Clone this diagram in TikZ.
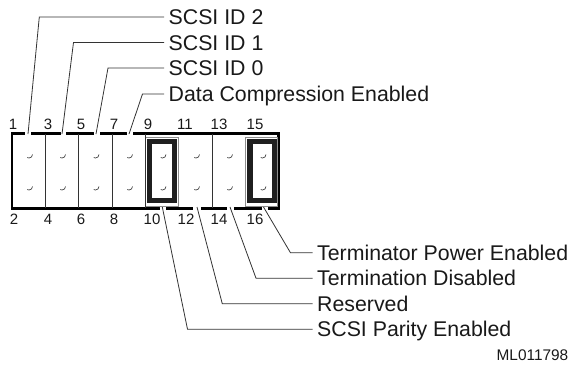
\documentclass[tikz,border=0pt]{standalone}
\usepackage{fontspec}
\setmainfont{Liberation Sans}
\usetikzlibrary{positioning, calc}

\begin{document}
\begin{tikzpicture}[
    x=1pt, y=-1pt,
    label/.style={anchor=west, inner xsep=4.5pt, inner ysep=0pt, text height=15pt, text depth=0pt,
                  font=\fontsize{21.3}{21.3}\selectfont, text=black!90},
    pinnum/.style={inner sep=0pt, font=\fontsize{15}{15}\selectfont, text=black!90},
    leader/.style={draw=black!80, line width=0.8pt},
    divider/.style={draw=black!80, line width=0.8pt},
    gap/.style={draw=white, line width=3.4pt},
    jumperbox/.style={draw=black!45, line width=0.9pt},
    jumper/.style={draw=black!88, line width=5.4pt},
    hook/.style={draw=black!75, line width=0.7pt},
]
\useasboundingbox (0,0) rectangle (575,364);

% --- Switch block ---
\draw[black, line width=2.6pt, fill=white] (12,133.3) rectangle (278.3,208.3);

% --- Gaps in the border for the leaders ---
\draw[gap] (25,133.3) -- (30.7,133.3);
\draw[gap] (60.7,133.3) -- (66,133.3);
\draw[gap] (93.5,133.3) -- (99.5,133.3);
\draw[gap] (126.7,133.3) -- (133,133.3);
\draw[gap] (159.5,208.3) -- (166,208.3);
\draw[gap] (193,208.3) -- (200.5,208.3);
\draw[gap] (227,208.3) -- (234,208.3);
\draw[gap] (261.7,208.3) -- (268,208.3);

% --- Dividers ---
\draw[divider] (45,134) -- (45,208);
\draw[divider] (78.7,134) -- (78.7,208);
\draw[divider] (112.3,134) -- (112.3,208);
\draw[divider] (212.3,134) -- (212.3,208);

% --- Grey surrounds of the jumpers ---
\draw[jumperbox] (145.7,137) rectangle (178.3,206.5);
\draw[jumperbox] (245.7,137) rectangle (277.5,206.5);
\draw[divider] (145.7,134) -- (145.7,208);

% --- Pins ---
\draw[hook] (32.5,154.5) arc (0:120:3.5); \draw[hook] (32.5,186.5) arc (0:120:3.5);
\draw[hook] (65.5,154.5) arc (0:120:3.5); \draw[hook] (65.5,186.5) arc (0:120:3.5);
\draw[hook] (99,154.5) arc (0:120:3.5); \draw[hook] (99,186.5) arc (0:120:3.5);
\draw[hook] (132.5,154.5) arc (0:120:3.5); \draw[hook] (132.5,186.5) arc (0:120:3.5);
\draw[hook] (166,154.5) arc (0:120:3.5); \draw[hook] (166,186.5) arc (0:120:3.5);
\draw[hook] (199.5,154.5) arc (0:120:3.5); \draw[hook] (199.5,186.5) arc (0:120:3.5);
\draw[hook] (232.5,154.5) arc (0:120:3.5); \draw[hook] (232.5,186.5) arc (0:120:3.5);
\draw[hook] (266,154.5) arc (0:120:3.5); \draw[hook] (266,186.5) arc (0:120:3.5);

% --- Jumpers ---
\draw[jumper] (149.5,141.2) rectangle (174.5,200.5);
\draw[jumper] (249.8,141.2) rectangle (274.2,200.5);

% --- Pin numbers ---
\node[pinnum] (n1)  at (13,124)  {1};
\node[pinnum] (n3)  at (48,124)  {3};
\node[pinnum] (n5)  at (81,124)  {5};
\node[pinnum] (n7)  at (114,124) {7};
\node[pinnum] (n9)  at (148,124) {9};
\node[pinnum] (n11) at (185,124) {11};
\node[pinnum] (n13) at (219,124) {13};
\node[pinnum] (n15) at (255,124) {15};
\node[pinnum] (n2)  at (14,219)  {2};
\node[pinnum] (n4)  at (48,219)  {4};
\node[pinnum] (n6)  at (81,219)  {6};
\node[pinnum] (n8)  at (114,219) {8};
\node[pinnum] (n10) at (152,219) {10};
\node[pinnum] (n12) at (186,219) {12};
\node[pinnum] (n14) at (219,219) {14};
\node[pinnum] (n16) at (255,219) {16};

% --- Labels ---
\node[label] (id2)  at (164,17)    {SCSI ID 2};
\node[label] (id1)  at (164,42.5)  {SCSI ID 1};
\node[label] (id0)  at (164,68)    {SCSI ID 0};
\node[label] (comp) at (164,94)    {Data Compression Enabled};
\node[label] (pwr)  at (312.5,252.8) {Terminator Power Enabled};
\node[label] (dis)  at (312.5,278.2) {Termination Disabled};
\node[label] (res)  at (312.5,303.8) {Reserved};
\node[label] (par)  at (312.5,329.2) {SCSI Parity Enabled};
\node[anchor=east, inner sep=0pt, font=\fontsize{15.4}{15.4}\selectfont, text=black!90] (code) at (568.5,355.5) {ML011798};

% --- Leader ends ---
\coordinate (p1)  at (28,134);
\coordinate (p3)  at (62,134);
\coordinate (p5)  at (96,134);
\coordinate (p7)  at (129,134);
\coordinate (p10) at (162.3,207);
\coordinate (p12) at (197,207);
\coordinate (p14) at (230,207);
\coordinate (p16) at (263.5,207);

% --- Elbows ---
\coordinate (e1)  at (39.3,17);
\coordinate (e3)  at (73.5,42.5);
\coordinate (e5)  at (108,68);
\coordinate (e7)  at (142.5,94);
\coordinate (e10) at (187.5,329.2);
\coordinate (e12) at (222.3,303.8);
\coordinate (e14) at (256,278.2);
\coordinate (e16) at (290.5,252.8);

% --- Leaders ---
\draw[leader] (p1) -- (e1) -- (id2.west);
\draw[leader] (p3) -- (e3) -- (id1.west);
\draw[leader] (p5) -- (e5) -- (id0.west);
\draw[leader] (p7) -- (e7) -- (comp.west);
\draw[leader] (p10) -- (e10) -- (par.west);
\draw[leader] (p12) -- (e12) -- (res.west);
\draw[leader] (p14) -- (e14) -- (dis.west);
\draw[leader] (p16) -- (e16) -- (pwr.west);

\end{tikzpicture}
\end{document}
